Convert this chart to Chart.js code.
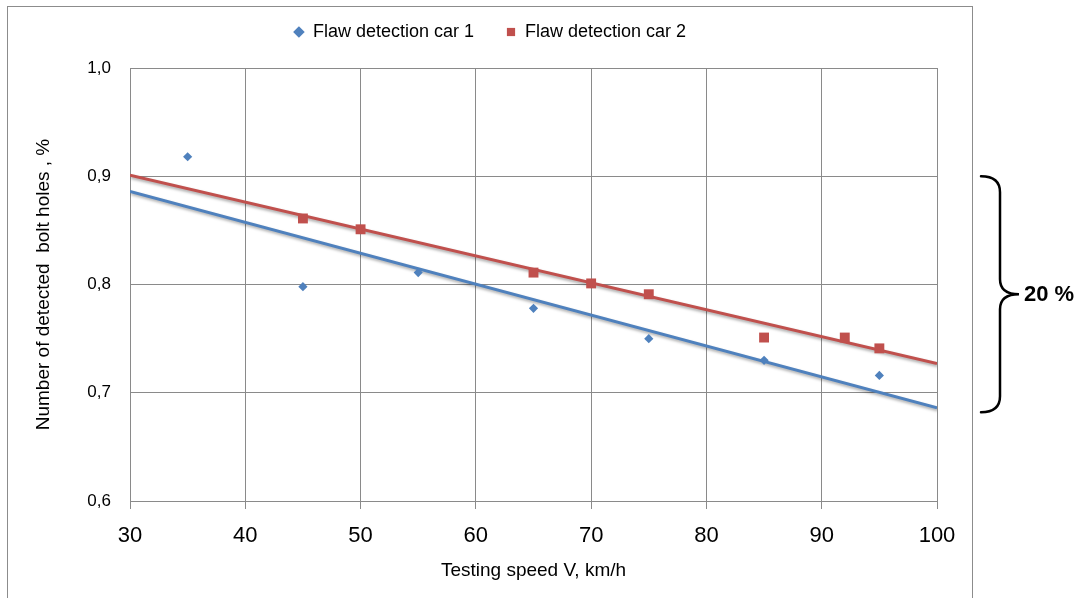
<!DOCTYPE html>
<html>
<head>
<meta charset="utf-8">
<title>Flaw detection cars</title>
<script src="https://cdn.jsdelivr.net/npm/chart.js@4.4.0/dist/chart.umd.min.js"></script>
<style>
  html, body { margin: 0; padding: 0; background: #fff; }
  #wrap { position: relative; width: 1081px; height: 598px; overflow: hidden; }
  #frame { position: absolute; left: 7px; top: 6px; width: 966px; height: 640px; border: 1px solid #8c8c8c; box-sizing: border-box; }
  #chart { position: absolute; left: 0; top: 0; }
</style>
</head>
<body>
<div id="wrap">
  <div id="frame"></div>
  <canvas id="chart" width="1081" height="598"></canvas>
</div>
<script>
// values
const speedCar1 = [35, 45, 55, 65, 75, 85, 95];
const holesCar1 = [0.918, 0.798, 0.811, 0.778, 0.750, 0.730, 0.716];
const speedCar2 = [45, 50, 65, 70, 75, 85, 92, 95];
const holesCar2 = [0.861, 0.851, 0.811, 0.801, 0.791, 0.751, 0.751, 0.741];
// linear trend lines (end points)
const trendSpeed = [30, 100];
const trendCar1 = [0.886, 0.686];
const trendCar2 = [0.901, 0.727];

const seriesNames = ['Flaw detection car 1', 'Flaw detection car 2'];
const yTickLabels = ['0,6', '0,7', '0,8', '0,9', '1,0'];
const braceRange = [0.9, 0.682];
const braceLabel = '20 %';

const blue = '#4F81BD';
const red = '#C0504D';
const gridColor = '#8a8a8a';
const fontFamily = '"Liberation Sans", Arial, sans-serif';

Chart.defaults.color = '#000';
Chart.defaults.font.family = fontFamily;

function points(xs, ys) {
    return xs.map(function(x, i) { return {x: x, y: ys[i]}; });
}

// soft shadow under the trend lines, like the office chart
const trendShadow = {
    id: 'trendShadow',
    beforeDatasetDraw(chart, args) {
        if (!chart.data.datasets[args.index].trend) return;
        const ctx = chart.ctx;
        ctx.save();
        ctx.shadowColor = 'rgba(0,0,0,0.35)';
        ctx.shadowBlur = 3;
        ctx.shadowOffsetX = 1;
        ctx.shadowOffsetY = 2;
    },
    afterDatasetDraw(chart, args) {
        if (chart.data.datasets[args.index].trend) chart.ctx.restore();
    }
};

// legend centred on the outer frame, text line at y = 32
const legendPlace = {
    id: 'legendPlace',
    afterLayout(chart) {
        const lg = chart.legend;
        lg.left = 7;
        lg.right = 973;
        lg.width = 966;
        lg.top = 32 - lg.options.labels.padding - 9;
    }
};

// curly brace with the "20 %" note on the right
const bracePlugin = {
    id: 'brace',
    afterDraw(chart) {
        const ctx = chart.ctx;
        const y = chart.scales.y;
        const top = y.getPixelForValue(braceRange[0]);
        const bottom = y.getPixelForValue(braceRange[1]);
        const mid = (top + bottom) / 2;
        const x0 = chart.chartArea.right + 44;
        const x1 = x0 + 19;
        const tip = x1 + 19;
        ctx.save();
        ctx.strokeStyle = '#000';
        ctx.lineWidth = 2.5;
        ctx.lineCap = 'round';
        ctx.beginPath();
        ctx.moveTo(x0, top);
        ctx.quadraticCurveTo(x1, top, x1, top + 16);
        ctx.lineTo(x1, mid - 15);
        ctx.quadraticCurveTo(x1, mid, tip, mid);
        ctx.quadraticCurveTo(x1, mid, x1, mid + 15);
        ctx.lineTo(x1, bottom - 16);
        ctx.quadraticCurveTo(x1, bottom, x0, bottom);
        ctx.stroke();
        ctx.font = 'bold 22px ' + fontFamily;
        ctx.fillStyle = '#000';
        ctx.textBaseline = 'middle';
        ctx.fillText(braceLabel, tip + 5, mid + 1);
        ctx.restore();
    }
};

new Chart(document.getElementById('chart'), {
    type: 'scatter',
    data: {
        datasets: [
            {
                label: seriesNames[0],
                data: points(speedCar1, holesCar1),
                pointStyle: 'rectRot',
                pointRadius: 4.6,
                backgroundColor: blue,
                borderColor: blue,
                borderWidth: 0,
                order: 0
            },
            {
                label: seriesNames[1],
                data: points(speedCar2, holesCar2),
                pointStyle: 'rect',
                pointRadius: 7,
                backgroundColor: red,
                borderColor: red,
                borderWidth: 0,
                order: 0
            },
            {
                label: 'trend 1',
                data: points(trendSpeed, trendCar1),
                showLine: true,
                pointRadius: 0,
                borderColor: blue,
                borderWidth: 3,
                order: 1,
                trend: true
            },
            {
                label: 'trend 2',
                data: points(trendSpeed, trendCar2),
                showLine: true,
                pointRadius: 0,
                borderColor: red,
                borderWidth: 3,
                order: 1,
                trend: true
            }
        ]
    },
    options: {
        responsive: false,
        animation: false,
        layout: {padding: {left: 0, right: 144, top: 8, bottom: 0}},
        plugins: {
            legend: {
                position: 'top',
                labels: {
                    usePointStyle: true,
                    boxWidth: 10,
                    boxHeight: 8.2,
                    padding: 32,
                    font: {size: 18},
                    filter: function(item) { return item.datasetIndex < 2; }
                }
            },
            tooltip: {enabled: false}
        },
        scales: {
            x: {
                type: 'linear',
                min: 30,
                max: 100,
                ticks: {stepSize: 10, font: {size: 22}, padding: 14},
                grid: {color: gridColor, tickColor: gridColor, tickLength: 8},
                border: {color: gridColor},
                title: {
                    display: true,
                    text: 'Testing speed V, km/h',
                    font: {size: 19},
                    padding: {top: 0, bottom: 16}
                },
                afterFit: function(scale) { scale.height = 97; }
            },
            y: {
                min: 0.6,
                max: 1.0,
                ticks: {
                    stepSize: 0.1,
                    font: {size: 17},
                    padding: 19,
                    callback: function(value, index) { return yTickLabels[index]; }
                },
                grid: {color: gridColor, drawTicks: false},
                border: {color: gridColor},
                title: {
                    display: true,
                    text: 'Number of detected  bolt holes , %',
                    font: {size: 19},
                    padding: {top: 32, bottom: 0}
                },
                afterFit: function(scale) { scale.width = 130; }
            }
        }
    },
    plugins: [trendShadow, legendPlace, bracePlugin]
});
</script>
</body>
</html>
